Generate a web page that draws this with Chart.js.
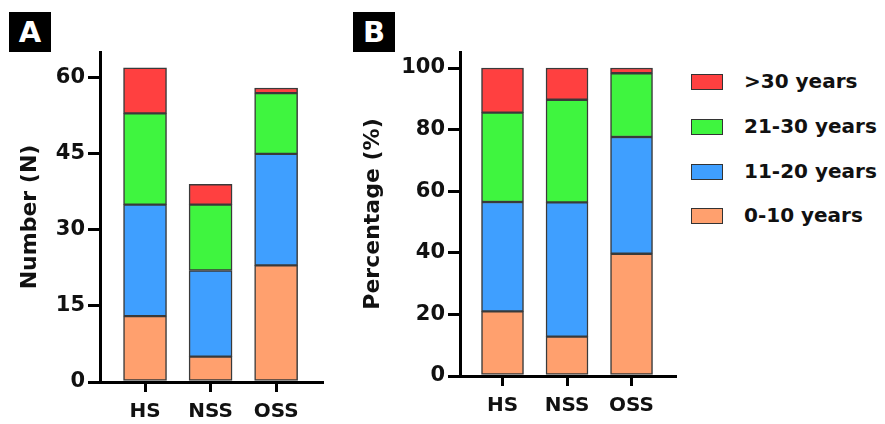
<!DOCTYPE html>
<html>
<head>
<meta charset="utf-8">
<script src="https://cdn.jsdelivr.net/npm/chart.js@4"></script>
<style>
    body { margin: 0; background: #fff; font-family: "DejaVu Sans", sans-serif; }
    #wrap { position: relative; width: 885px; height: 424px; overflow: hidden; }
    canvas { position: absolute; top: 0; }
    .tag {
        position: absolute; top: 12px; width: 42px; height: 40px;
        background: #000; color: #fff; font-weight: bold; font-size: 29px;
        line-height: 40px; text-align: center;
    }
    .legend { position: absolute; left: 691px; top: 0; }
    .row { position: absolute; left: 0; width: 200px; height: 20px; }
    .box {
        position: absolute; left: 0; top: 1px; width: 30px; height: 14px;
        border: 1.5px solid #333;
    }
    .lbl {
        position: absolute; left: 53px; top: -4px; font-weight: bold;
        font-size: 20px; color: #111; white-space: nowrap;
    }
</style>
</head>
<body>
<div id="wrap">
    <canvas id="chartA" width="340" height="424" style="left:0"></canvas>
    <canvas id="chartB" width="345" height="424" style="left:340px"></canvas>
    <div class="tag" style="left:9px">A</div>
    <div class="tag" style="left:353px">B</div>
    <div class="legend" id="legend"></div>
</div>
<script>
const groups = ["HS", "NSS", "OSS"];
const ageLabels = ["0-10 years", "11-20 years", "21-30 years", ">30 years"];
const ageColors = ["#FFA06E", "#3F9FFF", "#3FF53F", "#FF4040"];

// counts (panel A), one array per age band, in group order
const count0to10 = [13, 5, 23];
const count11to20 = [22, 17, 22];
const count21to30 = [18, 13, 12];
const countOver30 = [9, 4, 1];

// percentages (panel B)
const pct0to10 = [21.0, 12.8, 39.7];
const pct11to20 = [35.5, 43.6, 37.9];
const pct21to30 = [29.0, 33.3, 20.7];
const pctOver30 = [14.5, 10.3, 1.7];

const countTicks = [0, 15, 30, 45, 60];
const pctTicks = [0, 20, 40, 60, 80, 100];

const tickFont = { family: "DejaVu Sans", size: 21, weight: "bold" };
const catFont = { family: "DejaVu Sans", size: 20, weight: "bold" };
const titleFont = { family: "DejaVu Sans", size: 22, weight: "bold" };

function makeDatasets(series, thickness) {
    return series.map((vals, i) => ({
        label: ageLabels[i],
        data: vals.map((v, j) => ({ x: j + 1, y: v })),
        backgroundColor: ageColors[i],
        borderColor: "#3a3a3a",
        borderWidth: 1.5,
        borderSkipped: false,
        barThickness: thickness,
    }));
}

function makeChart(id, series, opts) {
    const ctx = document.getElementById(id).getContext("2d");
    return new Chart(ctx, {
        type: "bar",
        data: { datasets: makeDatasets(series, opts.thickness) },
        options: {
            responsive: false,
            animation: false,
            layout: { padding: { top: 52, right: opts.padRight, bottom: 0, left: 0 } },
            plugins: { legend: { display: false }, tooltip: { enabled: false } },
            scales: {
                x: {
                    type: "linear",
                    stacked: true,
                    offset: false,
                    min: opts.xMin,
                    max: opts.xMax,
                    afterBuildTicks: (scale) => {
                        scale.ticks = groups.map((g, i) => ({ value: i + 1 }));
                    },
                    afterFit: (scale) => { scale.height = opts.xHeight; },
                    ticks: {
                        font: catFont,
                        color: "#111",
                        padding: 8,
                        maxRotation: 0,
                        callback: (v) => groups[v - 1],
                    },
                    grid: { offset: false, drawOnChartArea: false, tickLength: 10, color: "#000", lineWidth: 3 },
                    border: { color: "#000", width: 3 },
                },
                y: {
                    stacked: true,
                    min: 0,
                    max: opts.yMax,
                    afterBuildTicks: (scale) => {
                        scale.ticks = opts.yTicks.map((v) => ({ value: v }));
                    },
                    afterFit: (scale) => { scale.width = opts.yWidth; },
                    ticks: { font: tickFont, color: "#111", padding: 3 },
                    grid: { drawOnChartArea: false, tickLength: 12, color: "#000", lineWidth: 3 },
                    border: { color: "#000", width: 3 },
                    title: {
                        display: true,
                        text: opts.title,
                        font: titleFont,
                        color: "#111",
                        padding: { top: opts.titlePad, bottom: 0 },
                    },
                },
            },
        },
    });
}

makeChart("chartA", [count0to10, count11to20, count21to30, countOver30], {
    thickness: 43, padRight: 18, xMin: 0.313, xMax: 3.70, xHeight: 42,
    yMax: 65.1, yTicks: countTicks, yWidth: 100, title: "Number (N)", titlePad: 17,
});

makeChart("chartB", [pct0to10, pct11to20, pct21to30, pctOver30], {
    thickness: 42, padRight: 10, xMin: 0.341, xMax: 3.674, xHeight: 48,
    yMax: 105.2, yTicks: pctTicks, yWidth: 120, title: "Percentage (%)", titlePad: 20,
});

// legend, top entry first like the reference
const legend = document.getElementById("legend");
const rowTops = [73, 118, 163, 207];
for (let k = 0; k < ageLabels.length; k++) {
    const i = ageLabels.length - 1 - k;
    const row = document.createElement("div");
    row.className = "row";
    row.style.top = rowTops[k] + "px";
    row.innerHTML = `<div class="box" style="background:${ageColors[i]}"></div>` +
        `<div class="lbl">${ageLabels[i]}</div>`;
    legend.appendChild(row);
}
</script>
</body>
</html>
